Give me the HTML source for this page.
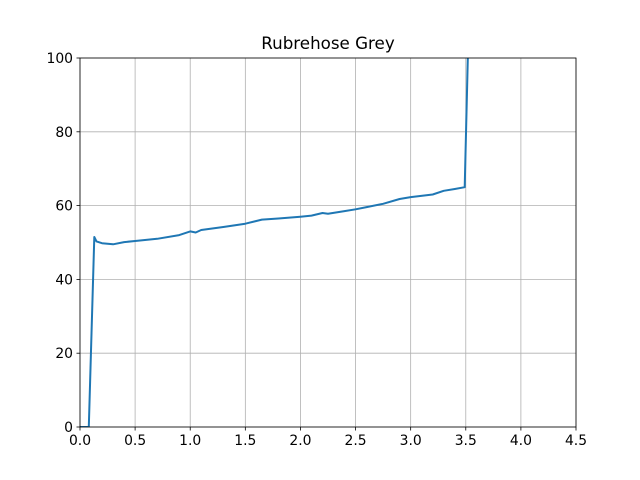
<!DOCTYPE html>
<html><head><meta charset="utf-8"><style>
body{margin:0;background:#fff;}
svg{display:block;font-family:"DejaVu Sans","Liberation Sans",sans-serif;}
</style></head><body>
<svg id="chart" width="640" height="480" viewBox="0 0 640 480">
<rect width="640" height="480" fill="#fff"/>
<text x="328" y="49" text-anchor="middle" font-size="16.7">Rubrehose Grey</text>
<g id="grid"></g><g id="series"></g><g id="axes"></g>
</svg>
<script>
const xTicks=[0,0.5,1,1.5,2,2.5,3,3.5,4,4.5];
const xTickLabels=["0.0","0.5","1.0","1.5","2.0","2.5","3.0","3.5","4.0","4.5"];
const yTicks=[0,20,40,60,80,100];
const yTickLabels=["0","20","40","60","80","100"];
const xValues=[0,0.08,0.13,0.15,0.2,0.3,0.4,0.5,0.7,0.9,1.0,1.05,1.1,1.3,1.5,1.65,1.8,2.0,2.1,2.2,2.25,2.4,2.5,2.6,2.75,2.9,3.0,3.2,3.3,3.4,3.49,3.52];
const yValues=[0,0,51.5,50.3,49.8,49.5,50.1,50.4,51,52,53,52.7,53.4,54.2,55.1,56.2,56.5,57,57.3,58,57.8,58.5,59,59.6,60.5,61.8,62.3,63,64,64.5,65,102];
const X0=80,X1=576,Y0=427,Y1=58,xMax=4.5,yMax=100;
const sx=v=>X0+(X1-X0)*v/xMax, sy=v=>Y0-(Y0-Y1)*v/yMax;
const NS="http://www.w3.org/2000/svg";
function mk(tag,attrs,parent){const e=document.createElementNS(NS,tag);for(const k in attrs)e.setAttribute(k,attrs[k]);parent.appendChild(e);return e;}
const grid=document.getElementById('grid'),axes=document.getElementById('axes'),series=document.getElementById('series');
xTicks.forEach((t,i)=>{const x=sx(t);
 const g=mk('line',{x1:x,x2:x,y1:Y1,y2:Y0,stroke:'#b0b0b0','stroke-width':0.8},grid);
 
 
 const tk=mk('line',{x1:x,x2:x,y1:Y0,y2:Y0+3.5,stroke:'#000','stroke-width':0.8},axes);
 
 
 const tx=mk('text',{x:x,y:Y0+18,'text-anchor':'middle','font-size':13.9},axes);tx.textContent=xTickLabels[i];
 
 
});
yTicks.forEach((t,i)=>{const y=sy(t);
 const g=mk('line',{x1:X0,x2:X1,y1:y,y2:y,stroke:'#b0b0b0','stroke-width':0.8},grid);
 
 
 const tk=mk('line',{x1:X0-3.5,x2:X0,y1:y,y2:y,stroke:'#000','stroke-width':0.8},axes);
 
 
 const tx=mk('text',{x:X0-7,y:y+5,'text-anchor':'end','font-size':13.9},axes);tx.textContent=yTickLabels[i];
 
 
});
const fr=mk('rect',{x:X0,y:Y1,width:X1-X0,height:Y0-Y1,fill:'none',stroke:'#000','stroke-width':0.8},axes);


mk('clipPath',{id:'clip'},series);
const cr=mk('rect',{x:X0,y:Y1,width:X1-X0,height:Y0-Y1},document.getElementById('clip'));
const d=xValues.map((v,i)=>(i?'L':'M')+sx(v).toFixed(1)+','+sy(yValues[i]).toFixed(1)).join(' ');
const p=mk('path',{d:d,fill:'none',stroke:'#1f77b4','stroke-width':2,'stroke-linejoin':'round','clip-path':'url(#clip)'},series);


</script>
</body></html>
